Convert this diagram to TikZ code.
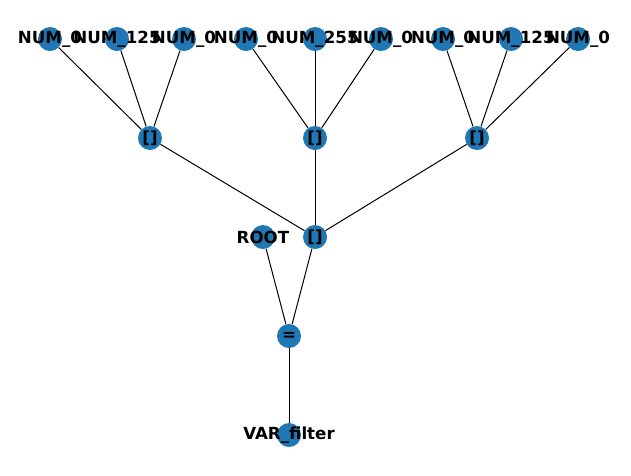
\documentclass[tikz,border=0pt]{standalone}
\usepackage{fontspec}
\setmainfont{DejaVu Sans}
\definecolor{nxblue}{RGB}{31,119,180}
\begin{document}
\begin{tikzpicture}[x=1pt,y=-1pt,
  vert/.style={circle,fill=nxblue,minimum size=24pt,inner sep=0pt},
  lbl/.style={inner sep=0pt,font=\fontsize{16.67}{20}\selectfont\bfseries},
  edge/.style={draw=black,line width=1pt}]
\useasboundingbox (0,0) rectangle (631,475);
% vertices
\node[vert] (t1) at (50,39) {};
\node[vert] (t2) at (117,39) {};
\node[vert] (t3) at (184,39) {};
\node[vert] (t4) at (246,39) {};
\node[vert] (t5) at (315,39) {};
\node[vert] (t6) at (381,39) {};
\node[vert] (t7) at (443,39) {};
\node[vert] (t8) at (511,39) {};
\node[vert] (t9) at (578,39) {};
\node[vert] (l1) at (150,138) {};
\node[vert] (l2) at (315,138) {};
\node[vert] (l3) at (477,138) {};
\node[vert] (root) at (263,237) {};
\node[vert] (lst) at (315,237) {};
\node[vert] (eq) at (289,336) {};
\node[vert] (var) at (289,435) {};
% edges
\begin{scope}[on background layer/.style={}]
\end{scope}
\foreach \a/\b in {t1/l1,t2/l1,t3/l1,t4/l2,t5/l2,t6/l2,t7/l3,t8/l3,t9/l3,l1/lst,l2/lst,l3/lst,root/eq,lst/eq,eq/var}
  \draw[edge] (\a) -- (\b);
% labels
\node[lbl] at (t1) {NUM\_0};
\node[lbl] at (t2) {NUM\_125};
\node[lbl] at (t3) {NUM\_0};
\node[lbl] at (t4) {NUM\_0};
\node[lbl] at (t5) {NUM\_255};
\node[lbl] at (t6) {NUM\_0};
\node[lbl] at (t7) {NUM\_0};
\node[lbl] at (t8) {NUM\_125};
\node[lbl] at (t9) {NUM\_0};
\node[lbl] at (l1) {[]};
\node[lbl] at (l2) {[]};
\node[lbl] at (l3) {[]};
\node[lbl] at (root) {ROOT};
\node[lbl] at (lst) {[]};
\node[lbl] at (eq) {=};
\node[lbl] at (var) {VAR\_filter};
\end{tikzpicture}
\end{document}
